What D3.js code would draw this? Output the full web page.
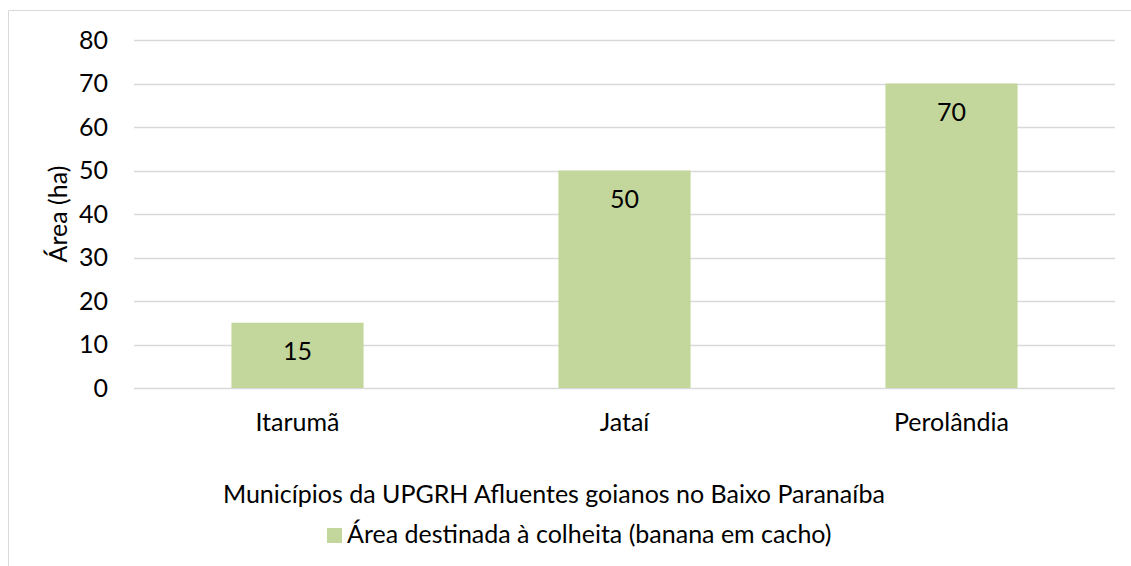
<!DOCTYPE html>
<html>
<head>
<meta charset="utf-8">
<script src="https://cdn.jsdelivr.net/npm/d3@7"></script>
<style>
  body { margin: 0; background: #fff; }
  svg text { font-family: Lato, "Open Sans", sans-serif; fill: #000; }
</style>
</head>
<body>
<div id="main"></div>
<script>
const municipios = ["Itarumã", "Jataí", "Perolândia"];
const areaColheita = [15, 50, 70];
const yTicks = [0, 10, 20, 30, 40, 50, 60, 70, 80];
const serieNome = "Área destinada à colheita (banana em cacho)";
const eixoX = "Municípios da UPGRH Afluentes goianos no Baixo Paranaíba";
const eixoY = "Área (ha)";

const width = 1131;
const height = 566;
const margin = { top: 40, right: 16, bottom: 178, left: 134 };
const innerWidth = width - margin.left - margin.right;
const innerHeight = height - margin.top - margin.bottom;
const fontSize = 25;

const svg = d3.select("#main").append("svg")
  .attr("width", width)
  .attr("height", height);

// chart frame (only left and top edges fall inside the picture)
svg.append("path")
  .attr("d", `M8.5,${height}V10.5H${width}`)
  .attr("fill", "none")
  .attr("stroke", "#d9d9d9")
  .attr("stroke-width", 1);

const x = d3.scaleBand()
  .domain(municipios)
  .range([0, innerWidth])
  .paddingInner(0.596)
  .paddingOuter(0.298);

const y = d3.scaleLinear()
  .domain([0, 80])
  .range([innerHeight, 0]);

// center a text around cx by measuring it
function centerAt(sel, cx) {
  sel.each(function(d, i) {
    const w = this.getComputedTextLength();
    const c = typeof cx === "function" ? cx(d, i) : cx;
    d3.select(this).attr("x", c - w / 2);
  });
}

const g = svg.append("g")
  .attr("transform", `translate(${margin.left},${margin.top})`);

// gridlines
g.append("g")
  .selectAll("line")
  .data(yTicks)
  .enter()
  .append("line")
  .attr("x1", 0)
  .attr("x2", innerWidth)
  .attr("y1", d => Math.round(y(d)) + 0.5)
  .attr("y2", d => Math.round(y(d)) + 0.5)
  .attr("stroke", "#d9d9d9")
  .attr("stroke-width", 1.5);

// y tick labels
g.append("g")
  .selectAll("text")
  .data(yTicks)
  .enter()
  .append("text")
  .attr("x", -26)
  .attr("y", d => y(d))
  .attr("dy", "0.35em")
  .attr("text-anchor", "end")
  .style("font-size", fontSize + "px")
  .text(d => d);

// bars
g.append("g")
  .selectAll("rect")
  .data(areaColheita)
  .enter()
  .append("rect")
  .attr("x", (d, i) => x(municipios[i]))
  .attr("y", d => y(d))
  .attr("width", x.bandwidth())
  .attr("height", d => innerHeight - y(d))
  .attr("fill", "#c3d69b");

// data labels
g.append("g")
  .selectAll("text")
  .data(areaColheita)
  .enter()
  .append("text")
  .attr("y", d => y(d) + 37)
  .style("font-size", fontSize + "px")
  .text(d => d)
  .call(centerAt, (d, i) => x(municipios[i]) + x.bandwidth() / 2);

// category labels
g.append("g")
  .selectAll("text")
  .data(municipios)
  .enter()
  .append("text")
  .attr("y", innerHeight + 43)
  .style("font-size", fontSize + "px")
  .text(d => d)
  .call(centerAt, d => x(d) + x.bandwidth() / 2);

// axis titles
const yTitle = svg.append("text")
  .style("font-size", fontSize + "px")
  .text(eixoY);
const yTitleW = yTitle.node().getComputedTextLength();
yTitle.attr("transform", `translate(67,${margin.top + innerHeight / 2 + yTitleW / 2}) rotate(-90)`);

svg.append("text")
  .attr("y", 503)
  .style("font-size", fontSize + "px")
  .text(eixoX)
  .call(centerAt, 554);

// legend
const legend = svg.append("g").attr("transform", "translate(327,528)");
legend.append("rect")
  .attr("width", 15)
  .attr("height", 15)
  .attr("fill", "#c3d69b");
legend.append("text")
  .attr("x", 20)
  .attr("y", 15)
  .style("font-size", fontSize + "px")
  .text(serieNome);
</script>
</body>
</html>
